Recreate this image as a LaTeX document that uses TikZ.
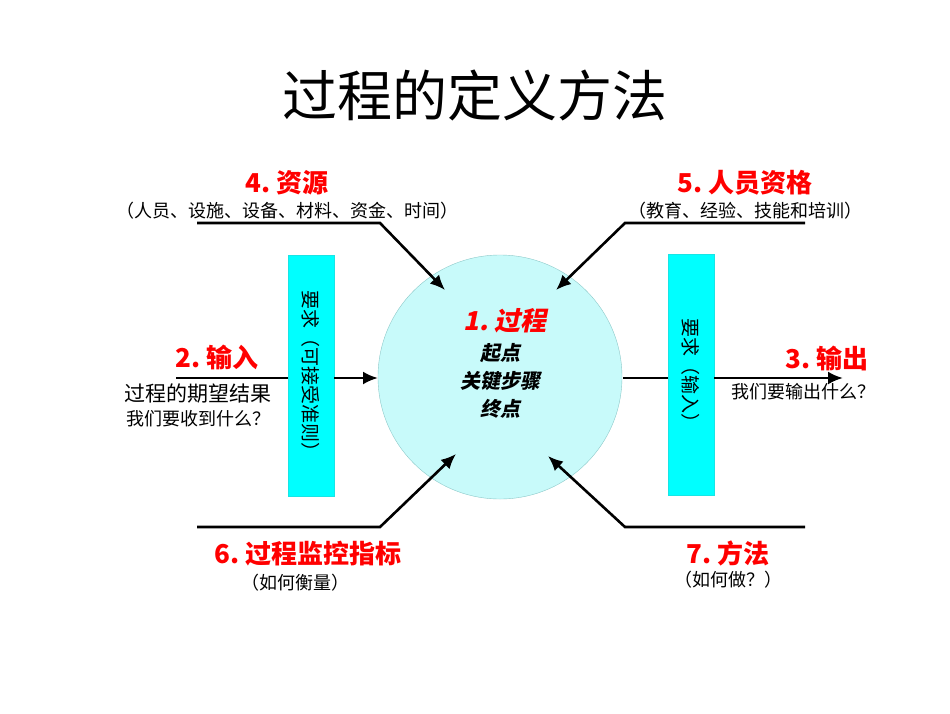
\documentclass[tikz,border=0pt]{standalone}
\usepackage{fontspec}
\usetikzlibrary{arrows.meta}
\setmainfont{Liberation Sans}
\newfontfamily\cjk{Noto Sans CJK SC}
\newfontfamily\cjkit{Noto Sans CJK SC}[FakeSlant=0.2]
\definecolor{barcyan}{HTML}{00FFFF}
\definecolor{circfill}{HTML}{C8FAFA}
\definecolor{circline}{HTML}{8CC8C8}
\begin{document}
\begin{tikzpicture}[x=1pt,y=-1pt,
  red/.style={text=red,font=\fontsize{26}{30}\selectfont\bfseries\cjk},
  sub/.style={font=\fontsize{18}{22}\selectfont\cjk},
  ln/.style={line width=2.6pt},
  arr/.style={line width=2.6pt,-{Latex[length=15pt,width=13pt]}},
  bar/.style={fill=barcyan,draw=barcyan!80!gray,minimum width=46pt,minimum height=241pt,inner sep=0pt}]
\useasboundingbox (0,0) rectangle (950,713);
\node[font=\fontsize{55}{60}\selectfont\cjk] (title) at (475,95) {过程的定义方法};
\node[circle,minimum size=244pt,fill=circfill,draw=circline,inner sep=0pt] (c) at (500,377) {};
\node[text=red,font=\fontsize{26}{30}\selectfont\bfseries\cjkit] (c1) at (505,321) {1.\ 过程};
\node[font=\fontsize{20}{28}\selectfont\bfseries\cjkit,align=center] (c2) at (500,381) {起点\\关键步骤\\终点};
\node[bar] (lb) at (311,376) {};
\node[bar] (rb) at (691,375) {};
\node[rotate=-90,font=\fontsize{19}{22}\selectfont\cjk] (lbt) at (lb) {要求（可接受准则）};
\node[rotate=-90,font=\fontsize{19}{22}\selectfont\cjk] (rbt) at (rb) {要求（输入）};
% coordinates
\coordinate (a4) at (197,223); \coordinate (b4) at (380,223); \coordinate (e4) at (445,290);
\coordinate (a5) at (805,223); \coordinate (b5) at (625,223); \coordinate (e5) at (556,290);
\coordinate (a6) at (197,527); \coordinate (b6) at (380,527); \coordinate (e6) at (456,454);
\coordinate (a7) at (805,527); \coordinate (b7) at (625,527); \coordinate (e7) at (548,456);
\coordinate (a2) at (176,378); \coordinate (e2) at (378,378);
\coordinate (a3) at (623,378); \coordinate (e3) at (843,378);
\draw[arr] (a4) -- (b4) -- (e4);
\draw[arr] (a5) -- (b5) -- (e5);
\draw[arr] (a6) -- (b6) -- (e6);
\draw[arr] (a7) -- (b7) -- (e7);
\draw[ln] (a2) -- (lb.west |- a2);
\draw[arr] (lb.east |- a2) -- (e2);
\draw[ln] (a3) -- (rb.west |- a3);
\draw[arr] (rb.east |- a3) -- (e3);
% labels
\node[red] (l4) at (287,183) {4.\ 资源};
\node[sub] (s4) at (287,211) {（人员、设施、设备、材料、资金、时间）};
\node[red] (l5) at (745,183) {5.\ 人员资格};
\node[sub] (s5) at (745,211) {（教育、经验、技能和培训）};
\node[red] (l2) at (217,357) {2.\ 输入};
\node[font=\fontsize{21}{24}\selectfont\cjk] (s2a) at (198,394) {过程的期望结果};
\node[sub] (s2b) at (198,419) {我们要收到什么？};
\node[red] (l3) at (827,358) {3.\ 输出};
\node[sub] (s3) at (803,392) {我们要输出什么？};
\node[red] (l6) at (308,554) {6.\ 过程监控指标};
\node[sub] (s6) at (295,583) {（如何衡量）};
\node[red] (l7) at (728,553) {7.\ 方法};
\node[sub] (s7) at (728,580) {（如何做？）};
\end{tikzpicture}
\end{document}
